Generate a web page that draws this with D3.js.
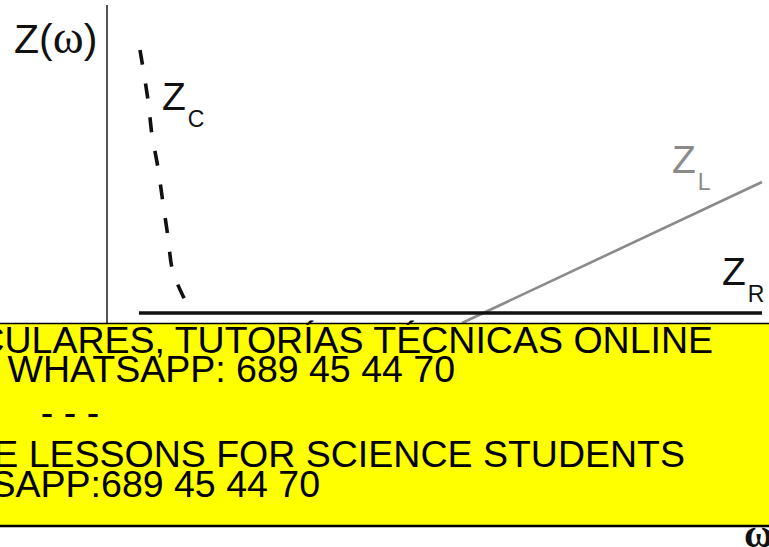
<!DOCTYPE html>
<html>
<head>
<meta charset="utf-8">
<script src="https://cdn.jsdelivr.net/npm/d3@7"></script>
<style>
html,body{margin:0;padding:0;background:#fff;}
svg{display:block;}
</style>
</head>
<body>
<svg id="chart" width="769" height="547"></svg>
<script>
// ---- data ----
const omegaC = [33, 41, 45, 51, 56, 61, 66, 81];
const zC     = [263, 213, 178, 145, 110, 76, 41, 7];
const omegaL = [355, 655];
const zL     = [-10, 131];
const omegaR = [32, 655];
const zR     = [0, 0];
const bannerLines = [
  "CLASES PARTICULARES, TUTORÍAS TÉCNICAS ONLINE",
  "LLAMA O ENVÍA WHATSAPP: 689 45 44 70",
  "- - -",
  "ONLINE PRIVATE LESSONS FOR SCIENCE STUDENTS",
  "CALL OR WHATSAPP:689 45 44 70"
];

const svg = d3.select("#chart");
const x = d3.scaleLinear().domain([0, 660]).range([107, 767]);
const y = d3.scaleLinear().domain([0, 300]).range([313, 13]);

// vertical axis
svg.append("line").attr("x1", x(0)).attr("x2", x(0)).attr("y1", 5).attr("y2", 325)
  .attr("stroke", "#2a2a2a").attr("stroke-width", 1.6);

const line = d3.line().x(d => x(d[0])).y(d => y(d[1]));

// Z_L
svg.append("path").datum(d3.zip(omegaL, zL)).attr("d", line)
  .attr("fill", "none").attr("stroke", "#8a8a8a").attr("stroke-width", 2.6);

// Z_R
svg.append("path").datum(d3.zip(omegaR, zR)).attr("d", line)
  .attr("fill", "none").attr("stroke", "#111").attr("stroke-width", 3.5);

// Z_C
svg.append("path").datum(d3.zip(omegaC, zC))
  .attr("d", d3.line().x(d => x(d[0])).y(d => y(d[1])).curve(d3.curveCatmullRom))
  .attr("fill", "none").attr("stroke", "#111").attr("stroke-width", 3.6)
  .attr("stroke-dasharray", "15,19");

// labels
const sans = "Arial, 'Liberation Sans', sans-serif";
const serif = "'Liberation Serif', 'Times New Roman', serif";
const zw = svg.append("text").attr("x", 14).attr("y", 53).attr("font-family", sans).attr("font-size", 41).attr("fill", "#111");
zw.append("tspan").text("Z(");
zw.append("tspan").attr("font-family", serif).attr("font-size", 47).text("ω");
zw.append("tspan").text(")");

function subLabel(xp, yp, main, sub, col) {
  const t = svg.append("text").attr("x", xp).attr("y", yp).attr("font-family", sans).attr("fill", col);
  t.append("tspan").attr("font-size", 39).text(main);
  t.append("tspan").attr("font-size", 23).attr("dy", 17).attr("dx", 2).text(sub);
}
subLabel(162, 110, "Z", "C", "#111");
subLabel(672, 173, "Z", "L", "#8a8a8a");
subLabel(722, 285, "Z", "R", "#111");

// banner
svg.append("rect").attr("x", -5).attr("y", 323.5).attr("width", 780).attr("height", 202.5)
  .attr("fill", "#ffff00").attr("stroke", "#000").attr("stroke-width", 1.5);
svg.append("line").attr("x1", 0).attr("x2", 769).attr("y1", 526).attr("y2", 526)
  .attr("stroke", "#000").attr("stroke-width", 2.5);

const bannerPos = [[713, 353, "end"], [455, 382, "end"], [70, 425, "middle"], [685, 467, "end"], [320, 497, "end"]];
bannerLines.forEach((s, i) => {
  svg.append("text").attr("x", bannerPos[i][0]).attr("y", bannerPos[i][1])
    .attr("text-anchor", bannerPos[i][2]).attr("font-family", sans).attr("font-size", 37.5)
    .attr("fill", "#000").text(s);
});

// omega axis label
svg.append("text").attr("x", 744).attr("y", 547).attr("font-family", serif)
  .attr("font-size", 40).attr("font-weight", "bold").attr("fill", "#111").text("ω");
</script>
</body>
</html>
